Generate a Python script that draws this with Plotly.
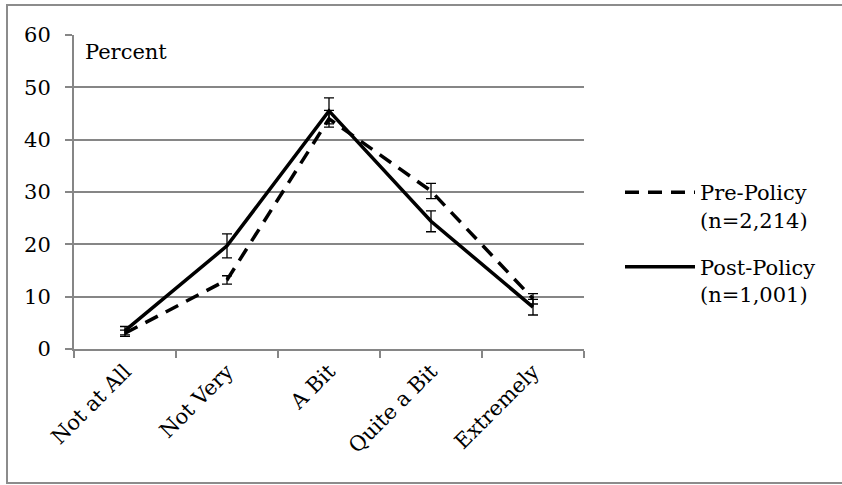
import plotly.graph_objects as go

categories = ["Not at All", "Not Very", "A Bit", "Quite a Bit", "Extremely"]
pre_values = [3.0, 13.2, 44.0, 30.2, 9.6]
pre_errors = [0.6, 0.8, 1.6, 1.45, 1.0]
post_values = [3.5, 19.7, 45.5, 24.4, 8.0]
post_errors = [0.8, 2.3, 2.5, 2.0, 1.5]
y_ticks = [0, 10, 20, 30, 40, 50, 60]

FONT = "DejaVu Serif"
FS = 21
W, H = 842, 485
L, R, T, B = 74, 258, 35, 136
pw, ph = W - L - R, H - T - B

def px_x(p):
    return (p - L) / pw

def px_y(p):
    return (H - B - p) / ph

fig = go.Figure()
fig.add_trace(go.Scatter(
    x=categories, y=pre_values, name="Pre-Policy<br>(n=2,214)", legendgroup="pre",
    mode="lines", line=dict(color="black", width=3.5, dash="14px,9px"),
    error_y=dict(type="data", array=pre_errors, color="black", thickness=1.3, width=5),
))
fig.add_trace(go.Scatter(
    x=categories, y=post_values, name="Post-Policy<br>(n=1,001)", legendgroup="post",
    mode="lines", line=dict(color="black", width=3.5),
    error_y=dict(type="data", array=post_errors, color="black", thickness=1.3, width=5),
))

fig.update_layout(
    width=W, height=H,
    margin=dict(l=L, r=R, t=T, b=B),
    paper_bgcolor="white", plot_bgcolor="white",
    font=dict(family=FONT, size=FS, color="black"),
    showlegend=True,
    legend=dict(
        x=px_x(620), y=px_y(172), xanchor="left", yanchor="top",
        font=dict(family=FONT, size=FS, color="black"),
        itemwidth=70, valign="top", tracegroupgap=17,
        bgcolor="rgba(0,0,0,0)",
    ),
    xaxis=dict(
        type="category", categoryorder="array", categoryarray=categories,
        range=[-0.5, 4.5], tickangle=-45, tickson="boundaries",
        ticks="outside", ticklen=7, tickcolor="#868686", tickwidth=2,
        showline=True, linecolor="#868686", linewidth=2,
        showgrid=False, zeroline=False,
        tickfont=dict(family=FONT, size=FS, color="black"),
    ),
    yaxis=dict(
        range=[0, 60], tickvals=y_ticks, ticktext=[str(v) for v in y_ticks],
        ticks="outside", ticklen=7, tickcolor="#868686", tickwidth=2,
        showline=True, linecolor="#868686", linewidth=2,
        showgrid=True, gridcolor="#868686", gridwidth=2,
        zeroline=False, ticklabelstandoff=10,
        tickfont=dict(family=FONT, size=FS, color="black"),
    ),
)

fig.add_annotation(
    text="Percent", xref="paper", yref="paper",
    x=px_x(83), y=px_y(38), xanchor="left", yanchor="top",
    showarrow=False, font=dict(family=FONT, size=FS, color="black"),
)

fig.add_shape(
    type="rect", xref="paper", yref="paper",
    x0=px_x(7), x1=px_x(860), y0=px_y(483), y1=px_y(5),
    line=dict(color="#8c8c8c", width=2), fillcolor="rgba(0,0,0,0)", layer="below",
)

fig.write_html("out.html")
